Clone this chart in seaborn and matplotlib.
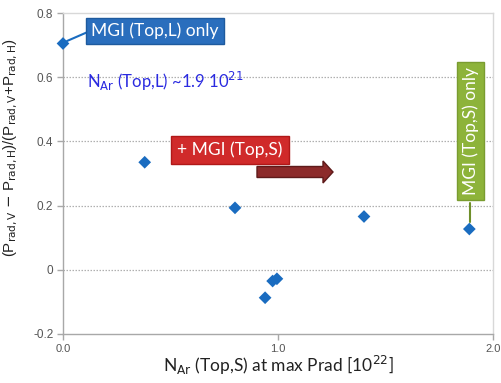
import matplotlib
matplotlib.use("Agg")
import matplotlib.pyplot as plt
import seaborn as sns
import pandas as pd
from matplotlib.patches import FancyArrow

n_ar = [0.0, 0.38, 0.80, 0.94, 0.975, 0.995, 1.40, 1.89]
asym = [0.705, 0.335, 0.193, -0.087, -0.035, -0.028, 0.166, 0.127]
xticks = [0.0, 1.0, 2.0]
xticklabels = ["0.0", "1.0", "2.0"]
yticks = [-0.2, 0, 0.2, 0.4, 0.6, 0.8]
yticklabels = ["-0.2", "0", "0.2", "0.4", "0.6", "0.8"]

sns.set_theme(style="white")
plt.rcParams['font.family'] = ['Lato', 'DejaVu Sans']

df = pd.DataFrame({"n": n_ar, "a": asym})
fig = plt.figure(figsize=(5.02, 3.83), dpi=100)
ax = fig.add_axes([63/502, 1-334/383, 430/502, 321/383])
sns.scatterplot(data=df, x="n", y="a", marker="D", s=42, color="#1a6cc0",
                edgecolor="none", ax=ax, zorder=5, clip_on=False)
ax.set_xlim(0, 2.0)
ax.set_ylim(-0.2, 0.8)
for yv in [0, 0.2, 0.4, 0.6]:
    ax.axhline(yv, color="#b0b0b0", lw=0.9, ls=(0, (1.2, 1.2)), zorder=1)
for s in ["top", "right"]:
    ax.spines[s].set_color("#d8d8d8")
    ax.spines[s].set_linewidth(1.0)
for s in ["left", "bottom"]:
    ax.spines[s].set_color("#a8a8a8")
    ax.spines[s].set_linewidth(1.0)
ax.set_xticks(xticks)
ax.set_xticklabels(xticklabels, family="Liberation Sans", fontsize=8, color="#555555")
ax.set_yticks(yticks)
ax.set_yticklabels(yticklabels, family="Liberation Sans", fontsize=8.5, color="#555555")
ax.tick_params(axis="both", which="major", length=4, width=1, color="#a8a8a8",
               direction="out", bottom=True, left=True, pad=3)
ax.tick_params(axis="x", pad=3)

ax.set_xlabel(r"N$_{\mathrm{Ar}}$ (Top,S) at max Prad [10$^{22}$]", fontsize=12.5, color="#222222", labelpad=0)
ax.set_ylabel(r"(P$_{\mathrm{rad,V}}$ $-$ P$_{\mathrm{rad,H}}$)/(P$_{\mathrm{rad,V}}$+P$_{\mathrm{rad,H}}$)",
              family="Liberation Sans", fontsize=10.8, color="#222222", labelpad=6)
ax.yaxis.set_label_coords(-0.1, 0.58)

# Blue callout
fig.add_artist(plt.Line2D([67/502, 90/502], [1-41/383, 1-31/383], color="#1a6cc0", lw=1.5))
fig.text(155/502, 1-31/383, "MGI (Top,L) only", ha="center", va="center", fontsize=12.5,
         color="white",
         bbox=dict(boxstyle="square,pad=0.28", fc="#2a6ebd", ec="#1e5a9e", lw=1))
fig.text(87/502, 1-81/383, r"N$_{\mathrm{Ar}}$ (Top,L) ~1.9 10$^{21}$", ha="left", va="center",
         fontsize=12, color="#2a2ae0")

# Red callout + arrow
fig.text(230/502, 1-150/383, "+ MGI (Top,S)", ha="center", va="center", fontsize=12.5,
         color="white",
         bbox=dict(boxstyle="square,pad=0.35", fc="#d02a2a", ec="#b01818", lw=1))
fig.add_artist(FancyArrow(257/502, 1-172/383, 76/502, 0, width=11/383,
                          head_width=22/383, head_length=10/502,
                          length_includes_head=True, transform=fig.transFigure,
                          fc="#8c2a2a", ec="#5e1a1a", lw=1))

# Green callout
fig.add_artist(plt.Line2D([470/502, 470/502], [1-203/383, 1-222/383], color="#6f8f2a", lw=1.5))
fig.text(470.5/502, 1-131/383, "MGI (Top,S) only", ha="center", va="center", rotation=90,
         fontsize=12.5, color="white",
         bbox=dict(boxstyle="square,pad=0.3", fc="#8db33a", ec="#7a9c30", lw=1))

fig.savefig("out.png", dpi=100, facecolor="white")
